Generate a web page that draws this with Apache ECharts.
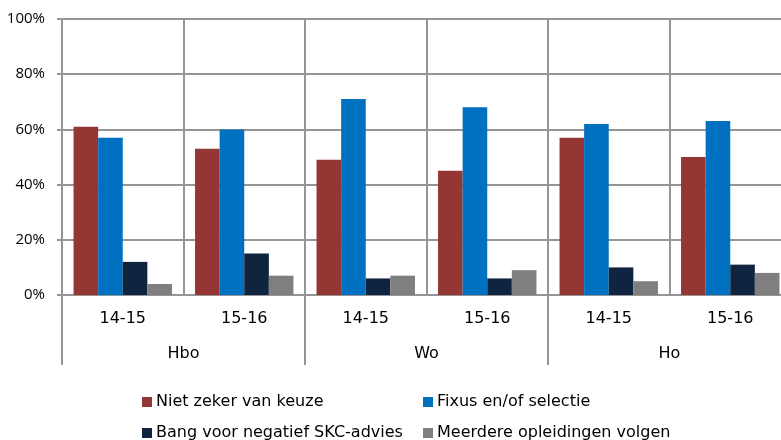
<!DOCTYPE html>
<html>
<head>
<meta charset="utf-8">
<script src="https://cdn.jsdelivr.net/npm/echarts@6/dist/echarts.min.js"></script>
<style>
  html, body { margin: 0; padding: 0; background: #ffffff; }
  #chart { width: 781px; height: 440px; }
</style>
</head>
<body>
<div id="chart"></div>
<script>
// Study year per bar group and the sector each pair of years belongs to
const periods = ['14-15', '15-16', '14-15', '15-16', '14-15', '15-16'];
const sectors = ['Hbo', 'Wo', 'Ho'];

// Share of students (%) giving each reason
const nietZeker = [61, 53, 49, 45, 57, 50];
const fixus = [57, 60, 71, 68, 62, 63];
const bang = [12, 15, 6, 6, 10, 11];
const meerdere = [4, 7, 7, 9, 5, 8];

const seriesNames = [
  'Niet zeker van keuze',
  'Fixus en/of selectie',
  'Bang voor negatief SKC-advies',
  'Meerdere opleidingen volgen'
];
const seriesValues = [nietZeker, fixus, bang, meerdere];
const seriesColors = ['#943634', '#0070C0', '#0F243E', '#7F7F7F'];

const gridGray = '#959595';
const labelFont = 'DejaVu Sans';

const chart = echarts.init(document.getElementById('chart'), null, { renderer: 'canvas' });

// One legend block per entry so the two columns line up
const legendPos = [
  { left: 142, top: 394 },
  { left: 423, top: 394 },
  { left: 142, top: 425 },
  { left: 423, top: 425 }
];

const option = {
  backgroundColor: '#ffffff',
  animation: false,
  grid: { left: 62, right: -10, top: 19, bottom: 145, containLabel: false, outerBoundsMode: 'none' },
  legend: seriesNames.map((name, i) => ({
    data: [name],
    left: legendPos[i].left,
    top: legendPos[i].top,
    padding: 0,
    itemWidth: 10,
    itemHeight: 10,
    icon: 'rect',
    selectedMode: false,
    textStyle: { fontFamily: labelFont, fontSize: 16, color: '#000000', padding: [0, 0, 0, -1] }
  })),
  xAxis: [
    {
      type: 'category',
      data: periods,
      boundaryGap: true,
      axisLine: { show: true, lineStyle: { color: gridGray, width: 2 } },
      axisTick: { show: false },
      splitLine: { show: true, interval: 0, lineStyle: { color: gridGray, width: 2 } },
      axisLabel: {
        interval: 0,
        margin: 16,
        fontFamily: labelFont,
        fontSize: 16,
        color: '#000000'
      }
    },
    {
      type: 'category',
      data: sectors,
      position: 'bottom',
      boundaryGap: true,
      axisLine: { show: false },
      axisTick: { show: true, length: 70, interval: 0, lineStyle: { color: gridGray, width: 2 } },
      splitLine: { show: false },
      axisLabel: {
        interval: 0,
        margin: 51,
        fontFamily: labelFont,
        fontSize: 16,
        color: '#000000'
      }
    }
  ],
  yAxis: {
    type: 'value',
    min: 0,
    max: 100,
    interval: 20,
    axisLine: { show: true, lineStyle: { color: gridGray, width: 2 } },
    axisTick: { show: true, length: 5, lineStyle: { color: gridGray, width: 2 } },
    splitLine: { show: true, lineStyle: { color: gridGray, width: 2 } },
    axisLabel: {
      formatter: '{value}%',
      margin: 17,
      fontFamily: 'Open Sans',
      fontSize: 15,
      color: '#000000'
    }
  },
  series: seriesNames.map((name, i) => ({
    name: name,
    type: 'bar',
    xAxisIndex: 0,
    data: seriesValues[i],
    barGap: '0%',
    barCategoryGap: '19%',
    itemStyle: { color: seriesColors[i] }
  }))
};

chart.setOption(option);
</script>
</body>
</html>
